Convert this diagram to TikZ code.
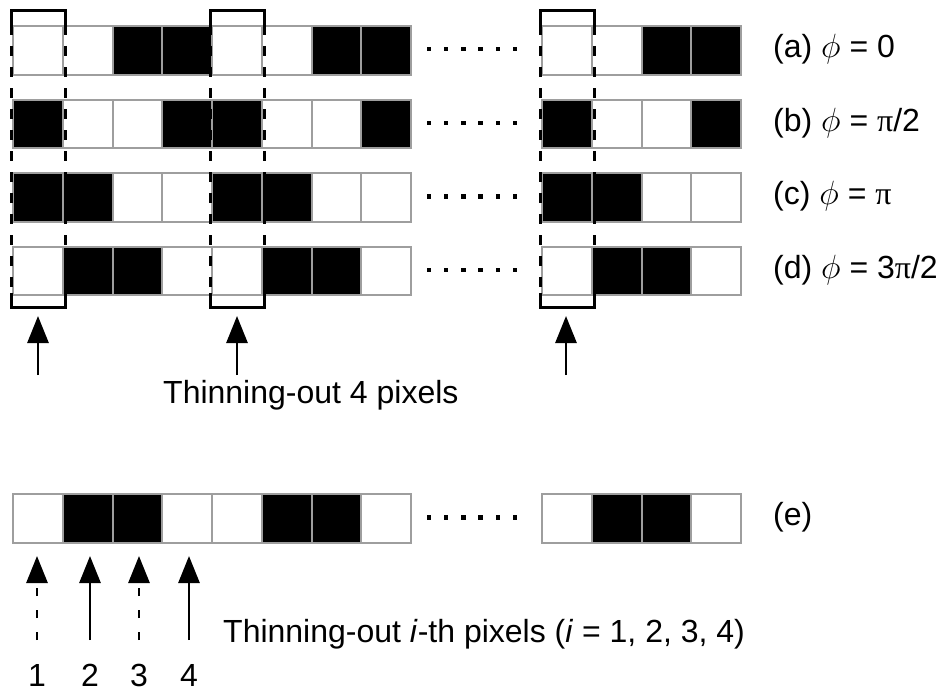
\documentclass[tikz,border=0pt]{standalone}
\usepackage{fontspec}
\usepackage{graphicx}
\setmainfont{Liberation Sans}
\newfontfamily\serifpi{Liberation Serif}
\usetikzlibrary{arrows.meta}
\newcommand{\mypi}{{\serifpi π}}
\newcommand{\myphi}{\scalebox{1.35}{$\phi$}}
\begin{document}
\begin{tikzpicture}[x=1pt,y=-1pt,
  cell/.style={draw=black!38, line width=2.2pt, minimum width=49.75pt, minimum height=48.5pt, inner sep=0pt, anchor=north west},
  v0/.style={fill=white},
  v1/.style={fill=black},
  brk/.style={line width=3pt, black},
  dsh/.style={line width=3pt, black, dash pattern=on 10pt off 11pt},
  dotsq/.style={fill=black, minimum size=4.5pt, inner sep=0pt, draw=none},
  lab/.style={font=\fontsize{32}{36}\selectfont, anchor=west, inner sep=0pt},
  upar/.style={-{Triangle[width=21pt,length=27pt]}, line width=2.8pt},
  updash/.style={upar, dash pattern=on 8pt off 14pt},
]
\useasboundingbox (0,0) rectangle (947,693);
% rows of pixels
\foreach \r/\yt/\pa/\pb/\pc/\pd in {a/25/0/0/1/1, b/98.5/1/0/0/1, c/172/1/1/0/0, d/245.5/0/1/1/0, e/493/0/1/1/0}{
  \foreach \g/\gx in {1/12,2/211,3/541}{
    \foreach \c/\v in {1/\pa,2/\pb,3/\pc,4/\pd}{
      \node[cell, v\v] (\r-\g-\c) at ({\gx+(\c-1)*49.75}, \yt) {};
    }
  }
  \foreach \k in {0,...,5}{
    \node[dotsq] (\r-dot-\k) at ({429+\k*17.2}, {\yt+24.25}) {};
  }
}
% labels
\node[lab] (la) at (773,49.25) {(a) \myphi{} = 0};
\node[lab] (lb) at (773,122.75) {(b) \myphi{} = \mypi/2};
\node[lab] (lc) at (773,196.25) {(c) \myphi{} = \mypi};
\node[lab] (ld) at (773,269.75) {(d) \myphi{} = 3\mypi/2};
\node[lab] (le) at (773,517.25) {(e)};
% brackets
\foreach \gx/\n in {12/1,211/2,541/3}{
  \coordinate (bl-top-\n) at ({\gx-1},25);
  \coordinate (br-top-\n) at ({\gx+53},25);
  \coordinate (bl-bot-\n) at ({\gx-1},293);
  \coordinate (br-bot-\n) at ({\gx+53},293);
  \draw[brk] (bl-top-\n) -- ++(0,-14) -| (br-top-\n);
  \draw[dsh] (bl-top-\n) -- (bl-bot-\n);
  \draw[dsh] (br-top-\n) -- (br-bot-\n);
  \draw[brk] (bl-bot-\n) -- ++(0,14) -| (br-bot-\n);
}
% top arrows
\foreach \x/\n in {38/1,237/2,566/3}{
  \coordinate (ta-s-\n) at (\x,375);
  \coordinate (ta-e-\n) at (\x,316);
  \draw[upar] (ta-s-\n) -- (ta-e-\n);
}
\node[lab, anchor=base west] (thin4) at (163,403) {Thinning-out 4 pixels};
% bottom arrows
\foreach \x/\n/\st in {37/1/updash,90/2/upar,139/3/updash,189/4/upar}{
  \coordinate (ba-s-\n) at (\x,640);
  \coordinate (ba-e-\n) at (\x,556);
  \draw[\st] (ba-s-\n) -- (ba-e-\n);
  \node[lab, anchor=base] (num-\n) at (\x,686) {\n};
}
\node[lab, anchor=base west] (thini) at (223,642) {Thinning-out \textit{i}-th pixels (\textit{i} = 1, 2, 3, 4)};
\end{tikzpicture}
\end{document}
